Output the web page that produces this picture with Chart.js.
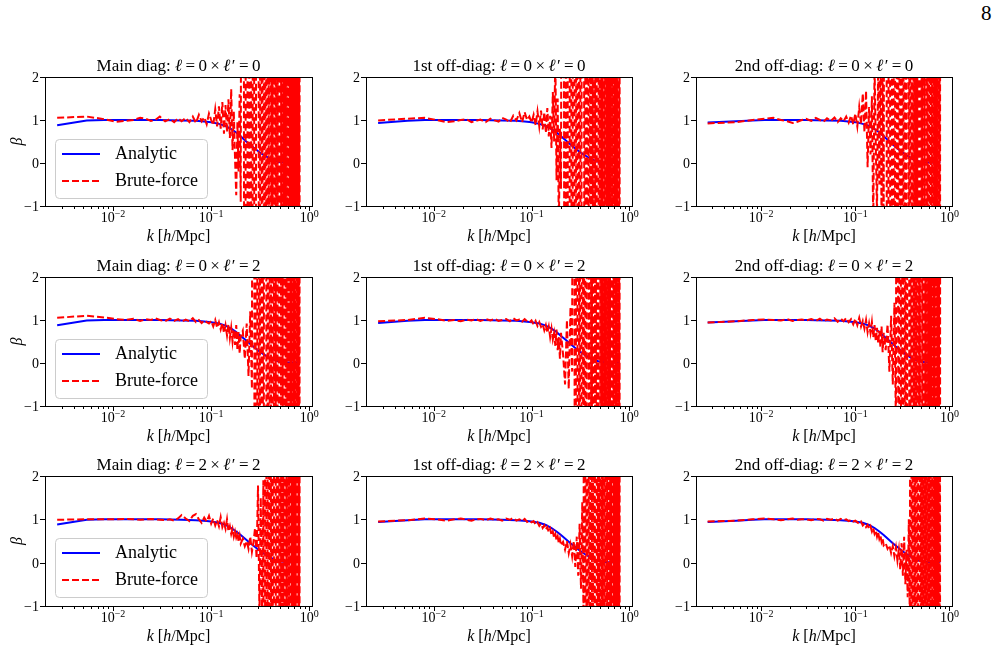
<!DOCTYPE html>
<html>
<head>
<meta charset="utf-8">
<script src="https://cdn.jsdelivr.net/npm/chart.js@4.4.0/dist/chart.umd.min.js"></script>
<style>
  body { margin: 0; background: #fff; }
  #page { position: relative; width: 997px; height: 649px; overflow: hidden; background: #fff; }
  #page canvas { position: absolute; }
  #pnum { position: absolute; left: 981px; top: 3px; font: 21px "Liberation Serif", serif; line-height: 21px; color: #000; }
</style>
</head>
<body>
<div id="page"><div id="pnum">8</div></div>
<script>
// k bins [h/Mpc] shared by the brute-force curves
const kGrid = [0.0027, 0.0054, 0.0081, 0.0108, 0.0135, 0.0162, 0.0189, 0.0216, 0.0243, 0.027,
  0.03, 0.034, 0.038, 0.042, 0.046, 0.05, 0.055, 0.06, 0.065, 0.07, 0.075, 0.08, 0.085, 0.09, 0.095, 0.1,
  0.105, 0.11, 0.115, 0.12, 0.125, 0.13, 0.135, 0.14, 0.145, 0.15, 0.155, 0.16, 0.165, 0.17, 0.175, 0.18, 0.185, 0.19, 0.195, 0.2,
  0.21, 0.22, 0.23, 0.24, 0.25, 0.26, 0.27, 0.28, 0.29, 0.3, 0.31, 0.32, 0.33, 0.34, 0.35, 0.36, 0.37, 0.38, 0.39, 0.4,
  0.41, 0.42, 0.43, 0.44, 0.45, 0.46, 0.47, 0.48, 0.49, 0.5, 0.51, 0.52, 0.53, 0.54, 0.55, 0.56, 0.57, 0.58, 0.59, 0.6,
  0.61, 0.62, 0.63, 0.64, 0.65, 0.66, 0.67, 0.68, 0.69, 0.7, 0.71, 0.72, 0.73, 0.74, 0.75, 0.76, 0.77, 0.78, 0.79, 0.8];

// k values for the analytic curves
const kAnalytic = [0.0027, 0.0054, 0.0081, 0.0108, 0.0135, 0.02, 0.03, 0.05, 0.07, 0.09, 0.1, 0.12, 0.14, 0.16,
  0.18, 0.2, 0.22, 0.25, 0.28, 0.31, 0.35, 0.4, 0.45, 0.5, 0.6, 0.7, 0.8];

// analytic beta, one per panel
const analyticMain00 = [0.88, 0.99, 1.0, 1.0, 1.0, 1.0, 1.0, 0.99, 0.98, 0.96, 0.95, 0.91, 0.86, 0.79, 0.71, 0.62, 0.53, 0.42, 0.33, 0.25, 0.17, 0.1, 0.05, 0.02, 0.01, 0.01, 0.02];
const analyticFirst00 = [0.93, 0.98, 1.0, 1.0, 1.0, 1.0, 1.0, 0.99, 0.98, 0.96, 0.95, 0.91, 0.86, 0.79, 0.71, 0.62, 0.54, 0.43, 0.34, 0.26, 0.18, 0.1, 0.05, 0.02, 0.01, 0.01, 0.02];
const analyticSecond00 = [0.94, 0.97, 0.99, 1.0, 1.0, 1.0, 1.0, 0.99, 0.98, 0.96, 0.95, 0.91, 0.86, 0.79, 0.71, 0.62, 0.54, 0.43, 0.34, 0.26, 0.18, 0.1, 0.05, 0.02, 0.01, 0.01, 0.02];
const analyticMain02 = [0.88, 0.99, 1.0, 1.0, 1.0, 1.0, 1.0, 0.99, 0.98, 0.96, 0.95, 0.92, 0.87, 0.8, 0.72, 0.63, 0.55, 0.44, 0.35, 0.27, 0.19, 0.11, 0.06, 0.03, 0.01, 0.01, 0.02];
const analyticFirst02 = [0.93, 0.98, 1.0, 1.0, 1.0, 1.0, 1.0, 0.99, 0.98, 0.96, 0.95, 0.92, 0.87, 0.8, 0.72, 0.63, 0.55, 0.44, 0.35, 0.27, 0.19, 0.11, 0.06, 0.03, 0.01, 0.01, 0.02];
const analyticSecond02 = [0.94, 0.97, 0.99, 1.0, 1.0, 1.0, 1.0, 0.99, 0.98, 0.96, 0.95, 0.92, 0.87, 0.8, 0.72, 0.63, 0.55, 0.44, 0.35, 0.27, 0.19, 0.11, 0.06, 0.03, 0.01, 0.01, 0.02];
const analyticMain22 = [0.88, 0.99, 1.0, 1.0, 1.0, 1.0, 1.0, 0.99, 0.98, 0.96, 0.95, 0.92, 0.87, 0.8, 0.72, 0.64, 0.56, 0.45, 0.36, 0.28, 0.2, 0.12, 0.06, 0.03, 0.01, 0.01, 0.02];
const analyticFirst22 = [0.94, 0.98, 1.0, 1.0, 1.0, 1.0, 1.0, 0.99, 0.98, 0.96, 0.95, 0.92, 0.87, 0.8, 0.72, 0.64, 0.56, 0.45, 0.36, 0.28, 0.2, 0.12, 0.06, 0.03, 0.01, 0.01, 0.02];
const analyticSecond22 = [0.94, 0.97, 0.99, 1.0, 1.0, 1.0, 1.0, 0.99, 0.98, 0.96, 0.95, 0.92, 0.87, 0.8, 0.72, 0.64, 0.56, 0.45, 0.36, 0.28, 0.2, 0.12, 0.06, 0.03, 0.01, 0.01, 0.02];

// brute-force beta, one per panel (values far outside [-1, 2] are clipped by the axes)
const bruteMain00 = [1.05, 1.08, 1.02, 0.96, 0.98, 1.0, 1.05, 1.03, 0.98, 1.0,
  1.08, 0.97, 1.02, 0.95, 1.04, 0.97, 1.05, 0.95, 1.08, 0.93, 1.12, 0.97, 1.06, 0.9, 1.15, 1.0,
  0.88, 1.25, 0.85, 1.32, 0.8, 1.42, 0.68, 1.35, 0.72, 1.48, 0.58, 1.72, 0.3, 1.2, 0.1, -0.75, 0.95, -0.2, 1.6, -0.9,
  32, -21, 29, -34, 41, -26, 33, -42, 27, 29, -31, 38, -24, 45, -36, 28, -48, 36, -29, 51,
  -33, 27, -44, 39, -28, 46, -52, 31, -37, -32, 49, -29, 35, -41, 54, -38, 32, -56, 42, -31,
  47, -45, 34, -59, 48, -36, 52, -43, 37, -61, 55, -39, 44, -53, 62, -46, 38, -58, 49, -42];
const bruteFirst00 = [0.99, 1.03, 1.05, 1.0, 0.95, 0.97, 1.0, 1.02, 0.95, 0.98,
  1.01, 0.95, 1.03, 0.99, 0.96, 1.05, 1.01, 0.94, 1.1, 0.99, 1.16, 0.95, 1.18, 1.0, 1.08, 0.94,
  1.12, 0.88, 1.2, 0.85, 1.22, 0.78, 1.18, 0.7, 1.28, 0.62, 1.1, 0.35, 1.65, 0.5, 2.5, -0.4, 1.5, -1.6, 0.8, -0.6,
  26, -24, 31, -38, 29, -22, 43, -31, 25, -46, 37, -28, 33, 36, -35, 49, -26, 32, -51, 41,
  -34, 29, -42, 53, -31, 38, -49, -44, 45, -32, 56, -39, 29, -53, 46, -35, 39, -62, 48, -33,
  51, -47, 36, -55, 63, -38, 42, -49, 58, -41, 37, -64, 52, -36, 46, -57, 61, -44, 50, -48];
const bruteSecond00 = [0.92, 0.95, 1.0, 1.03, 1.05, 1.0, 0.97, 0.93, 0.96, 1.0,
  1.03, 0.98, 1.05, 1.0, 0.96, 1.04, 0.98, 1.06, 0.95, 1.04, 0.97, 1.08, 0.94, 1.1, 0.9, 1.15,
  0.85, 1.3, 0.9, 1.62, 0.72, 1.68, -0.1, 1.3, 0.2, 1.55, -1.5, 2.3, 0.4, -1.2, 2.6, -0.5, 2.8, -1.6, 3.1, -2.2,
  34, -28, 27, -35, 42, -25, 36, -41, 28, -33, 47, -29, 32, -46, 39, 35, -37, 44, -50, 29,
  -38, 46, -42, 33, -54, 49, -32, 38, -47, 55, -34, 41, -58, 36, -44, -40, 52, -37, 47, -60,
  43, -39, 59, -46, 38, -52, 61, -41, 45, -56, 39, -63, 54, -40, 48, -59, 64, -45, 53, -50];
const bruteMain02 = [1.05, 1.1, 1.06, 1.02, 1.0, 1.03, 0.98, 1.02, 1.0, 1.04,
  1.0, 0.97, 1.03, 0.98, 1.02, 0.96, 1.01, 0.97, 1.04, 0.95, 1.0, 0.93, 0.99, 0.95, 0.92, 0.98,
  0.85, 1.0, 0.82, 0.95, 0.78, 0.93, 0.7, 0.88, 0.64, 0.9, 0.58, 0.82, 0.5, 0.78, 0.42, 0.88, 0.3, 0.72, 0.22, 0.62,
  0.75, 0.1, 0.92, -0.3, 1.2, -0.6, 26, -21, 33, -27, 28, -36, 41, -25, 34, 37, -43, 29, -35, 48,
  -27, 36, -50, 42, -31, 29, -45, 53, -34, -39, 44, -56, 35, -42, 57, -33, 40, -60, 46, -38,
  52, -48, 39, -55, 62, -41, 47, -53, 36, -61, 55, -44, 41, -58, 60, -39, 51, -54, 44, -46];
const bruteFirst02 = [0.97, 1.0, 1.05, 1.02, 0.98, 1.0, 0.97, 1.01, 0.99, 1.02,
  0.98, 1.02, 0.99, 1.03, 0.98, 1.0, 1.02, 0.97, 1.04, 0.99, 1.01, 0.96, 1.02, 0.97, 0.94, 0.99,
  0.9, 0.98, 0.86, 0.95, 0.84, 0.9, 0.76, 0.88, 0.7, 0.85, 0.6, 0.8, 0.55, 0.7, 0.4, 0.78, 0.3, 0.6, 0.1, 0.7,
  0.2, -0.5, 1.0, -0.6, 1.3, -0.2, 27, -23, 31, -29, 26, -38, 40, -26, 35, -44, 31, 34, -36, 50,
  -28, 37, -49, 43, -32, 30, -46, 54, -35, -40, 45, -57, 36, -43, 58, -34, 41, -61, 47, -39,
  53, -49, 40, -56, 63, -42, 48, -54, 37, -62, 56, -45, 42, -59, 61, -40, 52, -55, 45, -47];
const bruteSecond02 = [0.94, 0.97, 1.0, 1.01, 1.0, 0.99, 1.02, 0.98, 1.0, 1.01,
  0.99, 1.02, 0.98, 1.03, 0.97, 1.01, 0.99, 1.04, 0.96, 1.03, 0.97, 1.05, 0.95, 1.02, 0.9, 1.03,
  0.88, 1.05, 0.85, 0.98, 0.8, 1.0, 0.72, 0.92, 0.7, 0.95, 0.6, 0.88, 0.5, 0.82, 0.45, 0.75, 0.35, 0.85, 0.25, 0.7,
  0.3, 0.9, -0.2, 1.1, -0.5, 1.4, -1.5, 26, -24, 32, -28, 39, -34, 27, -41, 36, 32, -45, 29, -37,
  49, -28, 38, -51, 42, -32, 31, -47, 55, -36, -41, 46, -58, 37, -44, 59, -35, 42, -62, 48,
  -40, 54, -50, 41, -57, 64, -43, 49, -55, 38, -63, 57, -46, 43, -60, 62, -41, 53, -56, 46];
const bruteMain22 = [0.99, 1.0, 1.0, 1.0, 1.01, 1.0, 0.99, 1.0, 1.01, 1.0,
  0.99, 0.98, 1.0, 0.97, 1.02, 1.1, 1.02, 0.96, 1.08, 1.12, 1.0, 0.92, 1.04, 0.95, 1.08, 0.9,
  1.02, 0.86, 0.98, 0.84, 1.05, 0.82, 0.92, 0.78, 1.0, 0.72, 0.84, 0.66, 0.78, 0.6, 0.72, 0.58, 0.66, 0.5, 0.62, 0.44,
  0.55, 0.38, 0.5, 0.32, 0.6, 0.25, 0.48, 0.8, 0.1, 1.78, -1.2, 1.5, -1.5, 1.9, -22, 31, -26, 28, -34, 39,
  -25, 33, -40, 29, 32, -37, 46, -29, 35, -48, 41, -33, 30, -45, 52, -36, -31, 44, -55, 36,
  -43, 56, -34, 40, -59, 47, -39, 53, -48, 40, -56, 62, -42, 46, -53, 37, -61, 55, -45, 43];
const bruteFirst22 = [0.95, 0.98, 1.02, 1.0, 0.97, 1.0, 1.02, 0.99, 0.97, 1.0,
  1.01, 0.98, 1.02, 0.99, 1.0, 0.97, 1.02, 0.99, 1.03, 0.97, 1.0, 0.96, 1.01, 0.94, 0.97, 0.93,
  0.96, 0.88, 0.93, 0.85, 0.9, 0.8, 0.86, 0.76, 0.82, 0.7, 0.78, 0.64, 0.72, 0.58, 0.66, 0.52, 0.6, 0.45, 0.55, 0.4,
  0.48, 0.3, 0.5, 0.22, 0.42, 0.15, 0.5, -0.1, 0.6, -0.3, 0.9, -0.6, 1.4, -1.3, 25, -22, 30, -28, 36, -31,
  27, -39, 42, -26, 34, 38, -44, 30, -36, 49, -33, 40, -51, 35, -42, 53, -34, -39, 46, -56,
  38, -43, 58, -35, 44, -60, 49, -41, 54, -47, 42, -58, 63, -44, 48, -55, 39, -62, 56, -48];
const bruteSecond22 = [0.95, 0.97, 1.0, 1.02, 1.0, 0.98, 1.0, 1.02, 0.99, 1.0,
  1.0, 0.98, 1.01, 1.0, 0.97, 1.01, 0.99, 1.02, 0.97, 1.01, 0.98, 1.0, 0.96, 0.99, 0.95, 0.97,
  0.93, 0.9, 0.95, 0.86, 0.9, 0.82, 0.87, 0.78, 0.84, 0.72, 0.8, 0.67, 0.74, 0.6, 0.7, 0.55, 0.62, 0.48, 0.56, 0.4,
  0.45, 0.32, 0.4, 0.22, 0.38, 0.15, 0.35, 0.05, 0.3, -0.15, 0.45, -0.3, 0.6, -0.5, 0.3, -0.8, 1.0, -1.6, 25, -24,
  31, -30, 28, -37, 40, -27, 35, 39, -42, 31, -37, 48, -32, 41, -50, 36, -43, 52, -35, -38,
  45, -55, 37, -44, 57, -36, 43, -59, 50, -42, 55, -48, 43, -57, 62, -45, 47, -54, 39, -50];

// axes
const yTicks = [-1, 0, 1, 2];
const yTickLabels = ['\u22121', '0', '1', '2'];
const xTicks = [0.01, 0.1, 1];
const xTickExponents = ['\u22122', '\u22121', '0'];
const xRange = [0.00203, 1.064];
const yRange = [-1, 2];

const panelKinds = ['Main diag', '1st off-diag', '2nd off-diag'];
const ellPairs = [['0', '0'], ['0', '2'], ['2', '2']];
const legendLabels = ['Analytic', 'Brute-force'];

const analyticRows = [[analyticMain00, analyticFirst00, analyticSecond00],
                      [analyticMain02, analyticFirst02, analyticSecond02],
                      [analyticMain22, analyticFirst22, analyticSecond22]];
const bruteRows = [[bruteMain00, bruteFirst00, bruteSecond00],
                   [bruteMain02, bruteFirst02, bruteSecond02],
                   [bruteMain22, bruteFirst22, bruteSecond22]];

// plot-area pixel boxes on the page
const colLeft = [45, 366, 696], colRight = [312, 632, 952];
const rowTop = [77, 277, 476], rowBottom = [206, 406, 606];
const PAD = { left: 45, top: 35, right: 15, bottom: 45 };

const SERIF = '"Liberation Serif", "DejaVu Serif", serif';

function drawRuns(ctx, runs, cx, baseline, size) {
  let total = 0;
  runs.forEach(r => { ctx.font = (r[1] ? 'italic ' : '') + size + 'px ' + SERIF; total += ctx.measureText(r[0]).width; });
  let x = cx - total / 2;
  ctx.textAlign = 'left';
  ctx.textBaseline = 'alphabetic';
  runs.forEach(r => {
    ctx.font = (r[1] ? 'italic ' : '') + size + 'px ' + SERIF;
    ctx.fillText(r[0], x, baseline);
    x += ctx.measureText(r[0]).width;
  });
}

const panelDecor = {
  id: 'panelDecor',
  afterDraw(chart, args, opts) {
    const { ctx, chartArea: a } = chart;
    const xs = chart.scales.x, ys = chart.scales.y;
    ctx.save();
    ctx.fillStyle = '#000';
    ctx.strokeStyle = '#000';
    ctx.lineWidth = 1;

    // frame
    ctx.strokeRect(a.left + 0.5, a.top + 0.5, a.right - a.left, a.bottom - a.top);

    // ticks
    ctx.beginPath();
    yTicks.forEach(v => {
      const py = Math.round(ys.getPixelForValue(v)) + 0.5;
      ctx.moveTo(a.left, py); ctx.lineTo(a.left - 5, py);
    });
    xTicks.forEach(v => {
      const px = Math.round(xs.getPixelForValue(v)) + 0.5;
      ctx.moveTo(px, a.bottom); ctx.lineTo(px, a.bottom + 5);
    });
    [0.001, 0.01, 0.1].forEach(dec => {
      for (let m = 2; m <= 9; m++) {
        const v = dec * m;
        if (v < xRange[0] || v > xRange[1]) continue;
        const px = Math.round(xs.getPixelForValue(v)) + 0.5;
        ctx.moveTo(px, a.bottom); ctx.lineTo(px, a.bottom + 3);
      }
    });
    ctx.stroke();

    // y tick labels
    ctx.font = '14px ' + SERIF;
    ctx.textAlign = 'right';
    ctx.textBaseline = 'alphabetic';
    yTicks.forEach((v, i) => {
      ctx.fillText(yTickLabels[i], a.left - 6, ys.getPixelForValue(v) + 5);
    });

    // x tick labels 10^n
    xTicks.forEach((v, i) => {
      const px = xs.getPixelForValue(v);
      ctx.font = '14px ' + SERIF;
      const wb = ctx.measureText('10').width;
      ctx.font = '10px ' + SERIF;
      const we = ctx.measureText(xTickExponents[i]).width;
      const x0 = px - (wb + we) / 2;
      ctx.textAlign = 'left';
      ctx.font = '14px ' + SERIF;
      ctx.fillText('10', x0, a.bottom + 16);
      ctx.font = '10px ' + SERIF;
      ctx.fillText(xTickExponents[i], x0 + wb, a.bottom + 10.5);
    });

    // axis labels
    drawRuns(ctx, [['k', 1], [' [', 0], ['h', 1], ['/Mpc]', 0]], (a.left + a.right) / 2, a.bottom + 35, 16);
    if (opts.col === 0) {
      ctx.save();
      ctx.translate(a.left - 28, (a.top + a.bottom) / 2);
      ctx.rotate(-Math.PI / 2);
      ctx.font = 'italic 16px ' + SERIF;
      ctx.textAlign = 'center';
      ctx.fillText('\u03b2', 0, 5);
      ctx.restore();
    }

    // title
    const pair = ellPairs[opts.row];
    drawRuns(ctx, [
      [panelKinds[opts.col] + ': ', 0], ['\u2113', 1],
      ['\u2009=\u2009' + pair[0] + '\u2009\u00d7\u2009', 0], ['\u2113', 1],
      ['\u200a\u2032\u2009=\u2009' + pair[1], 0]
    ], (a.left + a.right) / 2, a.top - 6, 17);

    // legend
    if (opts.col === 0) {
      const bx = a.left + 10, by = a.top + 62, bw = 152, bh = 59;
      ctx.beginPath();
      ctx.roundRect(bx + 0.5, by + 0.5, bw, bh, 4);
      ctx.fillStyle = 'rgba(255,255,255,0.8)';
      ctx.fill();
      ctx.strokeStyle = '#cccccc';
      ctx.stroke();
      const rows = [a.top + 77, a.top + 104];
      ctx.lineWidth = 2;
      ctx.strokeStyle = '#0000ff';
      ctx.setLineDash([]);
      ctx.beginPath(); ctx.moveTo(a.left + 17, rows[0]); ctx.lineTo(a.left + 55, rows[0]); ctx.stroke();
      ctx.strokeStyle = '#ff0000';
      ctx.setLineDash([7, 3]);
      ctx.beginPath(); ctx.moveTo(a.left + 17, rows[1]); ctx.lineTo(a.left + 55, rows[1]); ctx.stroke();
      ctx.setLineDash([]);
      ctx.fillStyle = '#000';
      ctx.font = '18px ' + SERIF;
      ctx.textAlign = 'left';
      legendLabels.forEach((t, i) => ctx.fillText(t, a.left + 70, rows[i] + 5));
    }
    ctx.restore();
  }
};

const page = document.getElementById('page');
for (let r = 0; r < 3; r++) {
  for (let c = 0; c < 3; c++) {
    const w = colRight[c] - colLeft[c] + PAD.left + PAD.right;
    const h = rowBottom[r] - rowTop[r] + PAD.top + PAD.bottom;
    const cv = document.createElement('canvas');
    cv.width = w; cv.height = h;
    cv.style.left = (colLeft[c] - PAD.left) + 'px';
    cv.style.top = (rowTop[r] - PAD.top) + 'px';
    cv.style.width = w + 'px'; cv.style.height = h + 'px';
    page.appendChild(cv);

    const analytic = analyticRows[r][c];
    const brute = bruteRows[r][c];
    new Chart(cv.getContext('2d'), {
      type: 'line',
      data: {
        datasets: [{
          label: legendLabels[0],
          data: kAnalytic.map((k, i) => ({ x: k, y: analytic[i] })),
          borderColor: '#0000ff',
          borderWidth: 2,
          pointRadius: 0,
          tension: 0,
          order: 2
        }, {
          label: legendLabels[1],
          data: kGrid.map((k, i) => ({ x: k, y: brute[i] })),
          borderColor: '#ff0000',
          borderWidth: 2,
          borderDash: [7, 3],
          pointRadius: 0,
          tension: 0,
          order: 1
        }]
      },
      options: {
        responsive: false,
        animation: false,
        devicePixelRatio: 1,
        events: [],
        layout: { padding: PAD },
        plugins: {
          legend: { display: false },
          tooltip: { enabled: false },
          title: { display: false },
          panelDecor: { row: r, col: c }
        },
        scales: {
          x: { type: 'logarithmic', min: xRange[0], max: xRange[1], display: false },
          y: { type: 'linear', min: yRange[0], max: yRange[1], display: false }
        }
      },
      plugins: [panelDecor]
    });
  }
}
</script>
</body>
</html>
